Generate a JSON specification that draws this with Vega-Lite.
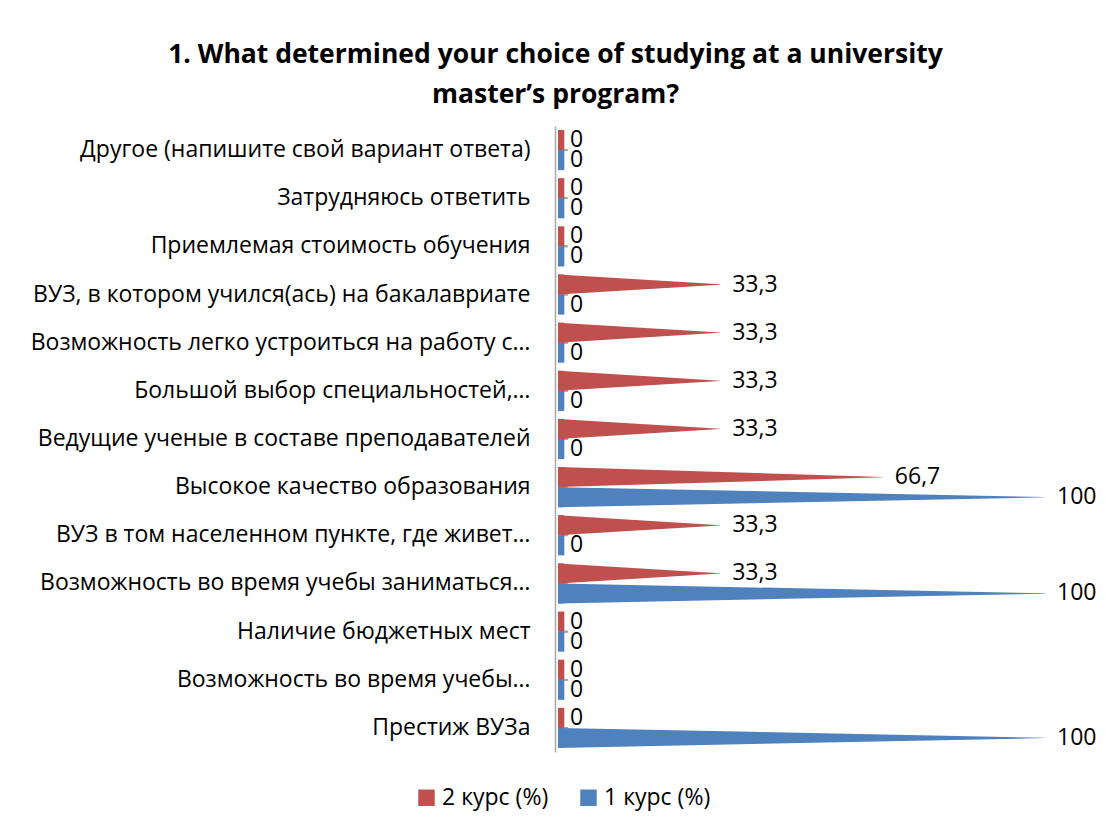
{
  "$schema": "https://vega.github.io/schema/vega-lite/v6.json",
  "width": 487,
  "height": 626,
  "autosize": {"type": "none"},
  "padding": {"left": 558, "top": 126, "right": 60, "bottom": 84},
  "background": "white",
  "title": {
    "text": ["1. What determined your choice of studying at a university", "master’s program?"],
    "font": "Open Sans",
    "fontSize": 26.5,
    "fontWeight": "bold",
    "color": "#000000",
    "anchor": "middle",
    "dx": -246,
    "offset": 18,
    "lineHeight": 40
  },
  "data": {
    "values": [
      {"cat": "Другое (напишите свой вариант ответа)", "series": "2 курс (%)", "value": 0},
      {"cat": "Другое (напишите свой вариант ответа)", "series": "1 курс (%)", "value": 0},
      {"cat": "Затрудняюсь ответить", "series": "2 курс (%)", "value": 0},
      {"cat": "Затрудняюсь ответить", "series": "1 курс (%)", "value": 0},
      {"cat": "Приемлемая стоимость обучения", "series": "2 курс (%)", "value": 0},
      {"cat": "Приемлемая стоимость обучения", "series": "1 курс (%)", "value": 0},
      {"cat": "ВУЗ, в котором учился(ась) на бакалавриате", "series": "2 курс (%)", "value": 33.3},
      {"cat": "ВУЗ, в котором учился(ась) на бакалавриате", "series": "1 курс (%)", "value": 0},
      {"cat": "Возможность легко устроиться на работу с…", "series": "2 курс (%)", "value": 33.3},
      {"cat": "Возможность легко устроиться на работу с…", "series": "1 курс (%)", "value": 0},
      {"cat": "Большой выбор специальностей,…", "series": "2 курс (%)", "value": 33.3},
      {"cat": "Большой выбор специальностей,…", "series": "1 курс (%)", "value": 0},
      {"cat": "Ведущие ученые в составе преподавателей", "series": "2 курс (%)", "value": 33.3},
      {"cat": "Ведущие ученые в составе преподавателей", "series": "1 курс (%)", "value": 0},
      {"cat": "Высокое качество образования", "series": "2 курс (%)", "value": 66.7},
      {"cat": "Высокое качество образования", "series": "1 курс (%)", "value": 100},
      {"cat": "ВУЗ в том населенном пункте, где живет…", "series": "2 курс (%)", "value": 33.3},
      {"cat": "ВУЗ в том населенном пункте, где живет…", "series": "1 курс (%)", "value": 0},
      {"cat": "Возможность во время учебы заниматься…", "series": "2 курс (%)", "value": 33.3},
      {"cat": "Возможность во время учебы заниматься…", "series": "1 курс (%)", "value": 100},
      {"cat": "Наличие бюджетных мест", "series": "2 курс (%)", "value": 0},
      {"cat": "Наличие бюджетных мест", "series": "1 курс (%)", "value": 0},
      {"cat": "Возможность во время учебы…", "series": "2 курс (%)", "value": 0},
      {"cat": "Возможность во время учебы…", "series": "1 курс (%)", "value": 0},
      {"cat": "Престиж ВУЗа", "series": "2 курс (%)", "value": 0},
      {"cat": "Престиж ВУЗа", "series": "1 курс (%)", "value": 100}
    ]
  },
  "transform": [
    {"fold": ["value"], "as": ["stage", "value"]},
    {"impute": "value", "key": "stage", "keyvals": ["base", "value"], "groupby": ["cat", "series"], "value": 0}
  ],
  "encoding": {
    "y": {
      "field": "cat",
      "type": "nominal",
      "sort": [
        "Другое (напишите свой вариант ответа)",
        "Затрудняюсь ответить",
        "Приемлемая стоимость обучения",
        "ВУЗ, в котором учился(ась) на бакалавриате",
        "Возможность легко устроиться на работу с…",
        "Большой выбор специальностей,…",
        "Ведущие ученые в составе преподавателей",
        "Высокое качество образования",
        "ВУЗ в том населенном пункте, где живет…",
        "Возможность во время учебы заниматься…",
        "Наличие бюджетных мест",
        "Возможность во время учебы…",
        "Престиж ВУЗа"
      ],
      "scale": {"type": "band", "paddingInner": 0, "paddingOuter": 0},
      "axis": {
        "title": null,
        "labelFont": "Open Sans",
        "labelFontSize": 23,
        "labelColor": "#000000",
        "ticks": false,
        "labelPadding": 25,
        "labelLimit": 0,
        "domainColor": "#A6A6A6",
        "domainWidth": 1.5,
        "offset": 3
      }
    },
    "color": {
      "field": "series",
      "type": "nominal",
      "scale": {"domain": ["2 курс (%)", "1 курс (%)"], "range": ["#C0504D", "#4F81BD"]},
      "legend": {
        "title": null,
        "orient": "none",
        "legendX": -143,
        "legendY": 660,
        "direction": "horizontal",
        "symbolType": "square",
        "symbolSize": 270,
        "symbolStrokeWidth": 0,
        "labelFont": "Open Sans",
        "labelFontSize": 23,
        "labelColor": "#000000",
        "columnPadding": 28
      }
    }
  },
  "layer": [
    {
      "mark": {"type": "rule", "color": "#A6A6A6", "strokeWidth": 1.5},
      "encoding": {
        "x": {"datum": 2, "type": "quantitative", "scale": {"domain": [0, 100]}, "axis": null},
        "color": {"value": "#A6A6A6"}
      }
    },
    {
      "transform": [{"filter": "datum.stage == 'value'"}],
      "mark": {"type": "bar"},
      "encoding": {
        "x": {"datum": 0, "type": "quantitative"},
        "x2": {"datum": 1.3},
        "yOffset": {"field": "series", "type": "nominal", "sort": ["2 курс (%)", "1 курс (%)"], "scale": {"paddingOuter": 0.2, "paddingInner": 0}}
      }
    },
    {
      "mark": {"type": "trail", "clip": true},
      "encoding": {
        "x": {"field": "value", "type": "quantitative"},
        "yOffset": {"field": "series", "type": "nominal", "sort": ["2 курс (%)", "1 курс (%)"]},
        "detail": {"field": "cat"},
        "order": {"field": "stage"},
        "size": {"field": "stage", "type": "nominal", "scale": {"domain": ["base", "value"], "range": [20, 0.3]}, "legend": null}
      }
    },
    {
      "transform": [{"filter": "datum.stage == 'value'"}],
      "mark": {"type": "text", "align": "left", "baseline": "middle", "dx": 12, "font": "Open Sans", "fontSize": 23},
      "encoding": {
        "x": {"field": "value", "type": "quantitative"},
        "yOffset": {"field": "series", "type": "nominal", "sort": ["2 курс (%)", "1 курс (%)"]},
        "text": {"field": "value", "type": "quantitative", "format": "~g"},
        "color": {"value": "#000000"}
      }
    }
  ],
  "config": {
    "view": {"stroke": null},
    "locale": {"number": {"decimal": ",", "thousands": " ", "grouping": [3], "currency": ["", ""]}}
  }
}
